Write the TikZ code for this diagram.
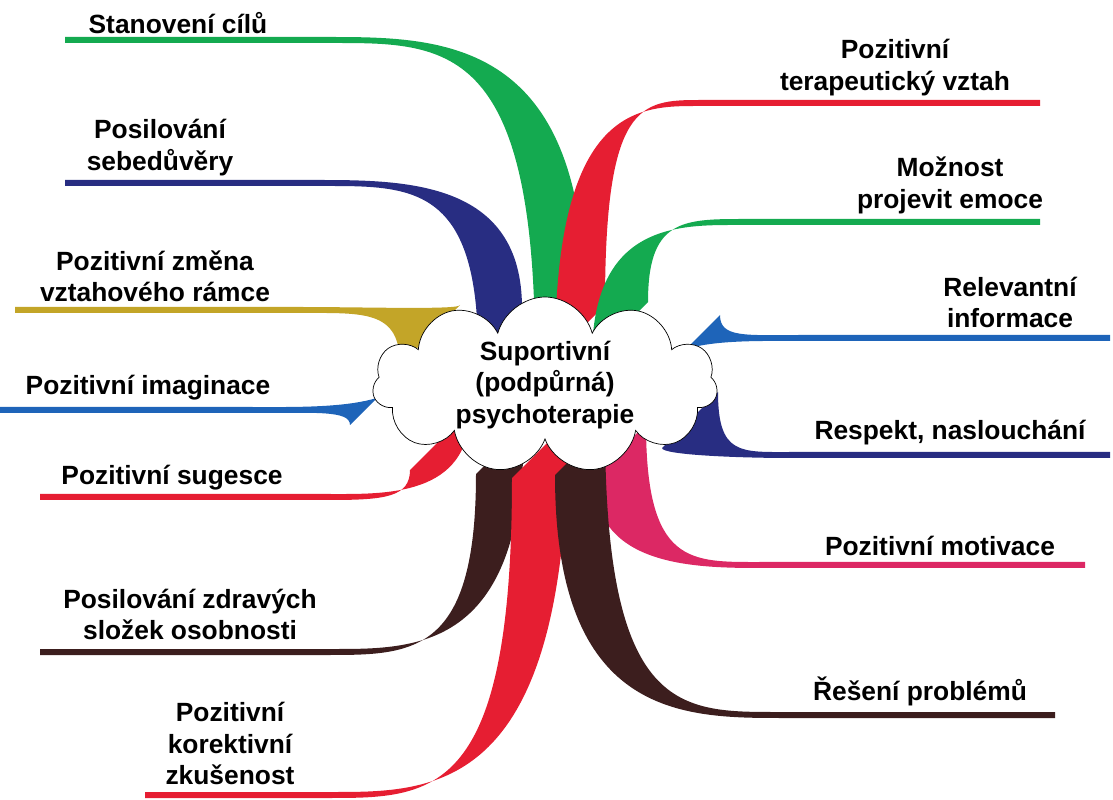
\documentclass[tikz,border=0pt]{standalone}
\usepackage{fontspec}
\setmainfont{Liberation Sans}
\usetikzlibrary{shapes.symbols, positioning}

% tapered branch: colour, root x, root y, bend x, line y, far x, half width
\newcommand\branch[7]{%
  \fill[#1] ({#2-#7},{#3+#7}) .. controls ({#2-#7},#5) and ({(#2+#4)/2},{#5+3}) .. (#4,{#5+3})
    -- (#6,{#5+3}) -- (#6,{#5-3}) -- (#4,{#5-3})
    .. controls ({(#2+#4)/2},{#5-3}) and ({#2+#7},#5) .. ({#2+#7},{#3-#7}) -- cycle;}

\definecolor{brgreen}{RGB}{20,170,80}
\definecolor{brnavy}{RGB}{40,45,130}
\definecolor{brolive}{RGB}{195,165,40}
\definecolor{brblue}{RGB}{30,100,185}
\definecolor{brred}{RGB}{230,30,50}
\definecolor{brbrown}{RGB}{60,30,30}
\definecolor{brpink}{RGB}{220,40,100}

\tikzset{
  lbl/.style={font=\bfseries\fontsize{15}{18}\selectfont, align=center, anchor=south, inner sep=1pt},
  hub/.style={cloud, cloud puffs=11, aspect=2.1, draw=black, fill=white, minimum width=6.9cm, minimum height=3.3cm,
    inner sep=0pt, font=\bfseries\fontsize{15}{18}\selectfont, align=center}
}

\begin{document}
\begin{tikzpicture}[x=0.02cm, y=-0.02cm]
  \useasboundingbox (0,0) rectangle (1113,800);

  % left side
  \branch{brgreen}{560}{330}{330}{40}{65}{25}
  \branch{brnavy}{500}{330}{320}{183}{65}{22}
  \branch{brolive}{430}{335}{300}{310}{15}{30}
  \branch{brblue}{380}{395}{250}{410}{0}{30}
  \branch{brred}{440}{440}{330}{497}{40}{30}
  \branch{brbrown}{500}{450}{330}{652}{40}{24}
  \branch{brred}{540}{450}{330}{795}{145}{28}
  % right side
  \branch{brred}{580}{330}{700}{103}{1040}{25}
  \branch{brgreen}{620}{330}{740}{222}{1040}{28}
  \branch{brblue}{690}{345}{800}{338}{1110}{30}
  \branch{brnavy}{690}{420}{790}{455}{1110}{28}
  \branch{brpink}{620}{450}{760}{565}{1085}{26}
  \branch{brbrown}{580}{450}{780}{715}{1055}{25}

  \node[hub] (S) at (545,385) {Suportivní\\(podpůrná)\\psychoterapie};

  \node[lbl] (L1) at (178,36) {Stanovení cílů};
  \node[lbl] (L2) at (160,178) {Posilování\\sebedůvěry};
  \node[lbl] (L3) at (155,304) {Pozitivní změna\\vztahového rámce};
  \node[lbl] (L4) at (148,402) {Pozitivní imaginace};
  \node[lbl] (L5) at (172,492) {Pozitivní sugesce};
  \node[lbl] (L6) at (190,642) {Posilování zdravých\\složek osobnosti};
  \node[lbl] (L7) at (230,787) {Pozitivní\\korektivní\\zkušenost};
  \node[lbl] (R1) at (895,98) {Pozitivní\\terapeutický vztah};
  \node[lbl] (R2) at (950,216) {Možnost\\projevit emoce};
  \node[lbl] (R3) at (1010,330) {Relevantní\\informace};
  \node[lbl] (R4) at (950,447) {Respekt, naslouchání};
  \node[lbl] (R5) at (940,558) {Pozitivní motivace};
  \node[lbl] (R6) at (920,708) {Řešení problémů};
\end{tikzpicture}
\end{document}
